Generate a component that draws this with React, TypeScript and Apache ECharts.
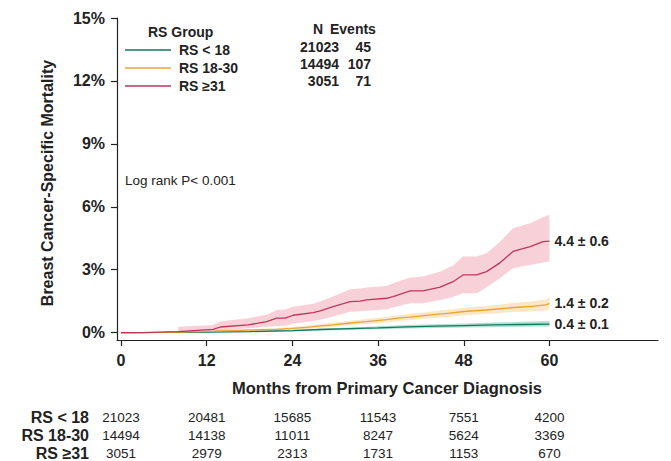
import React, { useEffect, useRef } from "react";
import * as echarts from "echarts";

// ---- data ----
const groupNames = ["RS < 18", "RS 18-30", "RS \u226531"];
const lineColors = ["#127a5c", "#e9a43a", "#c0365a"];
const bandColors = ["rgba(120,196,176,0.55)", "rgba(246,215,160,0.6)", "rgba(244,178,190,0.6)"];
const endLabels = ["0.4 \u00b1 0.1", "1.4 \u00b1 0.2", "4.4 \u00b1 0.6"];

const grnT = [0, 6, 12, 18, 24, 28, 32, 36, 40, 44, 48, 52, 56, 60];
const grnV = [0, 0.01, 0.03, 0.05, 0.1, 0.15, 0.19, 0.23, 0.28, 0.31, 0.34, 0.37, 0.39, 0.41];
const grnHi = [0, 0.02, 0.05, 0.08, 0.14, 0.2, 0.25, 0.3, 0.36, 0.4, 0.44, 0.48, 0.52, 0.56];
const grnLo = [0, 0, 0.01, 0.03, 0.06, 0.1, 0.13, 0.16, 0.2, 0.22, 0.24, 0.26, 0.28, 0.29];

const oraT = [0, 3, 8, 13, 17.8, 21.8, 24, 26, 27.9, 29.7, 32.1, 34.4, 37.2, 39.1, 40.5, 43.8, 46, 48.4, 51.2, 53.1, 55, 57.8, 59.5, 60];
const oraV = [0, 0, 0.03, 0.07, 0.12, 0.16, 0.2, 0.25, 0.32, 0.37, 0.46, 0.53, 0.62, 0.7, 0.74, 0.86, 0.93, 1.02, 1.08, 1.14, 1.2, 1.26, 1.32, 1.4];
const oraHi = [0, 0, 0.06, 0.11, 0.17, 0.22, 0.27, 0.33, 0.41, 0.47, 0.57, 0.65, 0.75, 0.84, 0.89, 1.02, 1.1, 1.2, 1.27, 1.34, 1.42, 1.5, 1.58, 1.7];
const oraLo = [0, 0, 0.01, 0.03, 0.07, 0.1, 0.13, 0.17, 0.23, 0.27, 0.35, 0.41, 0.49, 0.56, 0.59, 0.7, 0.76, 0.84, 0.89, 0.94, 0.98, 1.02, 1.06, 1.15];

const redT = [0, 3, 8, 12.9, 13.9, 17.8, 20.4, 21.8, 23, 24.1, 26.9, 27.9, 29.7, 32.1, 33.5, 34.4, 37.2, 38.1, 40.5, 42.3, 44.7, 46.5, 47.9, 49.8, 51.2, 53.1, 54.9, 57.3, 59.1, 60];
const redV = [0, 0, 0.05, 0.16, 0.27, 0.37, 0.53, 0.69, 0.69, 0.83, 0.95, 1.04, 1.24, 1.48, 1.5, 1.56, 1.64, 1.72, 1.99, 1.99, 2.17, 2.43, 2.75, 2.75, 2.91, 3.34, 3.87, 4.1, 4.34, 4.36];
const redHi = [null, null, 0.28, 0.37, 0.53, 0.69, 0.85, 1.08, 1.1, 1.24, 1.38, 1.48, 1.72, 2.07, 2.1, 2.15, 2.23, 2.35, 2.63, 2.68, 2.91, 3.2, 3.63, 3.63, 3.79, 4.34, 4.98, 5.22, 5.5, 5.62];
const redLo = [null, null, 0, 0.05, 0.1, 0.21, 0.28, 0.32, 0.33, 0.42, 0.55, 0.61, 0.77, 1.0, 1.02, 1.05, 1.11, 1.2, 1.4, 1.4, 1.56, 1.7, 1.88, 1.88, 2.17, 2.6, 3.07, 3.23, 3.35, 3.39];

const xTicks = [0, 12, 24, 36, 48, 60];
const yTicks = [0, 3, 6, 9, 12, 15];

const riskTimes = [0, 12, 24, 36, 48, 60];
const riskLow = [21023, 20481, 15685, 11543, 7551, 4200];
const riskMid = [14494, 14138, 11011, 8247, 5624, 3369];
const riskHigh = [3051, 2979, 2313, 1731, 1153, 670];

const nTotals = [21023, 14494, 3051];
const nEvents = [45, 107, 71];

const FONT = "'Liberation Sans', Arial, Helvetica, sans-serif";
const TXT = "#222";

export default function App() {
  const ref = useRef<HTMLDivElement>(null);
  useEffect(() => {
    if (!ref.current) return;
    const chart = echarts.init(ref.current, undefined, { renderer: "svg" });
    const groups = [
      { t: grnT, v: grnV, hi: grnHi, lo: grnLo },
      { t: oraT, v: oraV, hi: oraHi, lo: oraLo },
      { t: redT, v: redV, hi: redHi, lo: redLo },
    ];
    const bandSeries = groups.map((g, gi) => ({
      type: "custom",
      silent: true,
      z: 1,
      data: [[0, 0]],
      renderItem: (_p: any, api: any) => {
        const pts: number[][] = [];
        for (let i = 0; i < g.t.length; i++) {
          if (g.hi[i] != null) pts.push(api.coord([g.t[i], g.hi[i]]));
        }
        for (let i = g.t.length - 1; i >= 0; i--) {
          if (g.lo[i] != null) pts.push(api.coord([g.t[i], g.lo[i]]));
        }
        return { type: "polygon", shape: { points: pts }, style: { fill: bandColors[gi] } };
      },
    }));
    const lineSeries = groups.map((g, gi) => ({
      type: "line",
      name: groupNames[gi],
      z: 3,
      symbol: "none",
      data: g.t.map((t, i) => [t, g.v[i]]),
      lineStyle: { color: lineColors[gi], width: 1.3 },
      itemStyle: { color: lineColors[gi] },
      endLabel: {
        show: true,
        formatter: endLabels[gi],
        distance: 5,
        fontSize: 14,
        fontWeight: "bold",
        color: TXT,
        fontFamily: FONT,
      },
    }));
    const axisCommon = {
      splitLine: { show: false },
      axisLine: { show: true, onZero: false, lineStyle: { color: "#222", width: 1.2 } },
    };
    chart.setOption({
      animation: false,
      grid: { left: 117, top: 18, right: 13, bottom: 121, containLabel: false },
      xAxis: {
        type: "value",
        min: -0.56,
        max: 75.2,
        ...axisCommon,
        axisTick: { show: true, customValues: xTicks, length: 6, lineStyle: { color: "#222", width: 1.2 } },
        axisLabel: { customValues: xTicks, fontSize: 16, fontWeight: "bold", color: TXT, margin: 12, fontFamily: FONT },
      },
      yAxis: {
        type: "value",
        min: -0.35,
        max: 15,
        ...axisCommon,
        axisTick: { show: true, customValues: yTicks, length: 6, lineStyle: { color: "#222", width: 1.2 } },
        axisLabel: { customValues: yTicks, formatter: "{value}%", fontSize: 16, fontWeight: "bold", color: TXT, margin: 12, fontFamily: FONT },
      },
      legend: {
        data: groupNames,
        orient: "vertical",
        left: 125,
        top: 42,
        padding: 0,
        icon: "rect",
        itemWidth: 46,
        itemHeight: 1.6,
        itemGap: 2,
        textStyle: { fontSize: 14, fontWeight: "bold", color: TXT, fontFamily: FONT, padding: [0, 0, 0, 3], lineHeight: 16 },
      },
      series: [...bandSeries, ...lineSeries],
    });

    const px = (m: number) => chart.convertToPixel({ xAxisIndex: 0 }, m) as number;
    const graphics: any[] = [];
    const txt = (x: number, y: number, text: string, opts: any = {}) =>
      graphics.push({
        type: "text",
        x,
        y,
        silent: true,
        style: {
          text,
          fontSize: opts.size || 14,
          fontWeight: opts.weight || "bold",
          fontFamily: FONT,
          fill: TXT,
          align: opts.align || "left",
          verticalAlign: "middle",
        },
        rotation: opts.rotation || 0,
      });
    // axis titles
    txt(47, 183, "Breast Cancer-Specific Mortality", { size: 16, align: "center", rotation: Math.PI / 2 });
    txt(387, 388, "Months from Primary Cancer Diagnosis", { size: 16.5, align: "center" });
    // legend title and N/events table
    txt(148, 32, "RS Group", { size: 14 });
    txt(318, 29, "N", { size: 14, align: "center" });
    txt(330, 29, "Events", { size: 14 });
    nTotals.forEach((n, i) => {
      const y = 47 + i * 17;
      txt(339, y, String(n), { size: 14, align: "right" });
      txt(371, y, String(nEvents[i]), { size: 14, align: "right" });
    });
    txt(125, 180, "Log rank P< 0.001", { size: 13.5, weight: "normal" });
    // risk table
    const rows = [riskLow, riskMid, riskHigh];
    rows.forEach((row, ri) => {
      const y = 417 + ri * 18;
      txt(89, y, groupNames[ri], { size: 16, align: "right" });
      row.forEach((val, ci) => {
        txt(px(riskTimes[ci]), y, String(val), { size: 13.5, weight: "normal", align: "center" });
      });
    });
    chart.setOption({ graphic: graphics });

    return () => chart.dispose();
  }, []);
  return (
    <div
      ref={ref}
      style={{ position: "fixed", left: 0, top: 0, width: 671, height: 461, background: "#fff" }}
    />
  );
}
